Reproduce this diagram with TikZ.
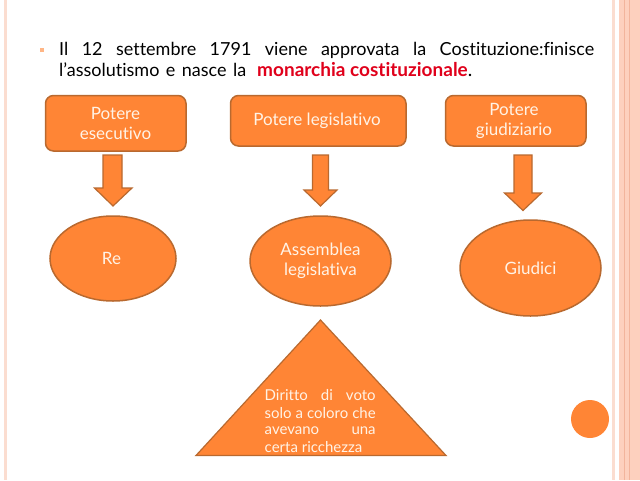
\documentclass[tikz,border=0pt]{standalone}
\usepackage{fontspec}
\setmainfont[Ligatures=NoCommon]{Lato}
\usetikzlibrary{shapes.geometric}
\definecolor{orfill}{HTML}{FF8535}
\definecolor{orline}{HTML}{B9692F}
\definecolor{stripe}{HTML}{FDD0BE}
\definecolor{stripel}{HTML}{FBDDD0}
\definecolor{stripeline}{HTML}{F2B49C}
\definecolor{redtxt}{HTML}{E0001B}
\definecolor{cream}{HTML}{FFF3E6}
\tikzset{
  x=1pt,y=-1pt,
  shapeline/.style={draw=orline,line width=1.5pt,fill=orfill},
  lab/.style={text=cream,font=\fontsize{17}{20}\selectfont,align=center,inner sep=0pt},
  ell/.style={shapeline,ellipse,inner sep=0pt},
  titleline/.style={anchor=base west,inner sep=0pt,font=\fontsize{18}{20}\selectfont,text=black},
  triline/.style={anchor=base west,inner sep=0pt,font=\fontsize{15}{16}\selectfont,text=cream},
  barrow/.style={shapeline,line width=1.2pt,line join=miter}
}
\begin{document}
\begin{tikzpicture}
\useasboundingbox (0,0) rectangle (640,480);
\fill[white] (0,0) rectangle (640,480);
% side stripes
\fill[stripel] (3.5,0) rectangle (6.5,480);
\fill[stripel] (612,0) rectangle (615,480);
\fill[stripe] (619,0) rectangle (640,480);
\fill[stripeline] (624,0) rectangle (625.2,480);
\fill[stripeline] (629,0) rectangle (630,480);
% bullet
\fill[orfill!60] (40,47.5) rectangle (44,52);
% title
\node[titleline] (t1) at (59,55) {\makebox[535pt][s]{Il 12 settembre 1791 viene approvata la Costituzione:finisce}};
\node[titleline] (t2) at (59,76.5) {\makebox[187pt][s]{l’assolutismo e nasce la}};
\node[titleline,font=\fontsize{19}{20}\selectfont] (t3) at (257,76.5) {\textcolor{redtxt}{\textbf{monarchia costituzionale}}\textcolor{black}{.}};
% boxes
\draw[shapeline,rounded corners=8pt] (45.5,95.5) rectangle (186,151);
\node[lab] (b1) at (115.5,123.5) {Potere\\esecutivo};
\draw[shapeline,rounded corners=8pt] (230.5,95.5) rectangle (406,146);
\node[lab] (b2) at (317,121) {Potere legislativo};
\draw[shapeline,rounded corners=8pt] (445.5,95.5) rectangle (586,146);
\node[lab] (b3) at (514,120.5) {Potere\\giudiziario};
% block arrows
\draw[barrow] (103,155) -- (122,155) -- (122,188) -- (132,188) -- (113,206) -- (94.5,188) -- (103,188) -- cycle;
\draw[barrow] (312.5,155) -- (328.5,155) -- (328.5,190) -- (337,190) -- (320.5,206) -- (304,190) -- (312.5,190) -- cycle;
\draw[barrow] (514,155) -- (532,155) -- (532,193) -- (541.5,193) -- (523,210.5) -- (504.5,193) -- (514,193) -- cycle;
% ellipses
\node[ell,minimum width=126pt,minimum height=85pt,lab] (e1) at (113,258.5) {\hspace*{-3pt}Re};
\node[ell,minimum width=141pt,minimum height=90pt,lab] (e2) at (320.5,261) {Assemblea\\legislativa};
\node[ell,minimum width=141pt,minimum height=96pt,lab] (e3) at (530.5,268) {Giudici};
% triangle
\draw[shapeline,line width=1.2pt,line join=miter] (320.5,320) -- (446,455.5) -- (196,455.5) -- cycle;
\node[triline] (l1) at (264.5,400.5) {\makebox[111pt][s]{Diritto di voto}};
\node[triline] (l2) at (264.5,418) {\makebox[111pt][s]{solo a coloro che}};
\node[triline] (l3) at (264.5,434.5) {\makebox[111pt][s]{avevano una}};
\node[triline] (l4) at (264.5,452) {certa ricchezza};
% circle
\fill[orfill] (590,419) circle (19);
\end{tikzpicture}
\end{document}
